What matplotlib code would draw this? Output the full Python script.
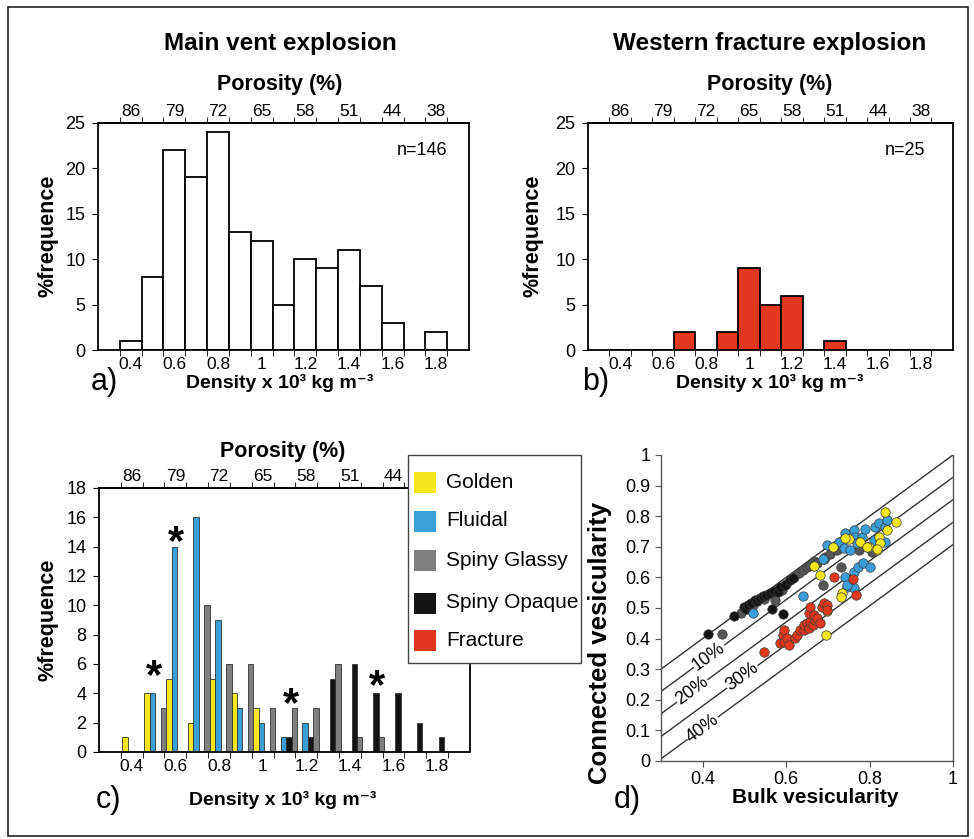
import matplotlib
matplotlib.use('Agg')  # no display
import matplotlib.pyplot as plt
from matplotlib.patches import Rectangle
import numpy as np

plt.rcParams['font.family'] = ['Liberation Sans Narrow', 'Liberation Sans', 'DejaVu Sans']
plt.rcParams['axes.linewidth'] = 1.3

# density classes (bin centres, x 10^3 kg m-3)
bin_centres = [0.4, 0.5, 0.6, 0.7, 0.8, 0.9, 1.0, 1.1, 1.2, 1.3, 1.4, 1.5, 1.6, 1.7, 1.8]
main_vent = [1, 8, 22, 19, 24, 13, 12, 5, 10, 9, 11, 7, 3, 0, 2]
west_fracture = [0, 0, 0, 2, 0, 2, 9, 5, 6, 0, 1, 0, 0, 0, 0]

# main vent split by clast type
golden = [1, 4, 5, 2, 5, 4, 3, 0, 0, 0, 0, 0, 0, 0, 0]
fluidal = [0, 4, 14, 16, 9, 3, 2, 1, 2, 0, 0, 0, 0, 0, 0]
spiny_glassy = [0, 0, 3, 0, 10, 6, 6, 3, 3, 3, 6, 1, 1, 0, 0]
spiny_opaque = [0, 0, 0, 0, 0, 0, 0, 1, 1, 5, 6, 4, 4, 2, 1]

density_ticks = [0.4, 0.6, 0.8, 1.0, 1.2, 1.4, 1.6, 1.8]
density_labels = ['0.4', '0.6', '0.8', '1', '1.2', '1.4', '1.6', '1.8']
porosity_labels = ['86', '79', '72', '65', '58', '51', '44', '38']

# asterisks in panel c (density, % frequence)
star_x = [0.5, 0.605, 1.13, 1.525]
star_y = [5.1, 14.25, 3.2, 4.4]

# bulk vs connected vesicularity
glassy_bulk = [0.446, 0.493, 0.52, 0.548, 0.573, 0.59, 0.60, 0.62, 0.63, 0.64, 0.649, 0.658,
               0.667, 0.674, 0.69, 0.694, 0.706, 0.722, 0.731, 0.688, 0.774, 0.806]
glassy_conn = [0.415, 0.483, 0.51, 0.53, 0.526, 0.56, 0.58, 0.60, 0.615, 0.624, 0.635, 0.64,
               0.652, 0.646, 0.66, 0.668, 0.675, 0.69, 0.635, 0.575, 0.69, 0.684]
opaque_bulk = [0.412, 0.475, 0.499, 0.505, 0.509, 0.516, 0.525, 0.53, 0.537, 0.545, 0.553,
               0.562, 0.57, 0.581, 0.585, 0.597, 0.609, 0.617, 0.565, 0.593]
opaque_conn = [0.415, 0.475, 0.503, 0.497, 0.51, 0.515, 0.526, 0.522, 0.533, 0.538, 0.542,
               0.55, 0.555, 0.553, 0.57, 0.575, 0.59, 0.597, 0.496, 0.48]
fluidal_bulk = [0.521, 0.641, 0.689, 0.697, 0.726, 0.738, 0.741, 0.754, 0.762, 0.766, 0.77,
                0.782, 0.79, 0.794, 0.812, 0.81, 0.822, 0.838, 0.843, 0.837, 0.742, 0.746,
                0.763, 0.763, 0.773, 0.785, 0.801, 0.745]
fluidal_conn = [0.483, 0.539, 0.659, 0.706, 0.717, 0.695, 0.744, 0.69, 0.755, 0.733, 0.711,
                0.733, 0.758, 0.70, 0.766, 0.722, 0.777, 0.766, 0.788, 0.717, 0.602, 0.57,
                0.619, 0.564, 0.635, 0.646, 0.635, 0.575]
golden_bulk = [0.838, 0.864, 0.842, 0.823, 0.818, 0.798, 0.777, 0.751, 0.742, 0.713, 0.667,
               0.681, 0.733, 0.731, 0.699, 0.696, 0.795, 0.826, 0.819]
golden_conn = [0.815, 0.782, 0.755, 0.733, 0.69, 0.70, 0.717, 0.725, 0.728, 0.699, 0.637,
               0.608, 0.55, 0.537, 0.491, 0.412, 0.698, 0.711, 0.692]
fracture_bulk = [0.547, 0.586, 0.592, 0.594, 0.594, 0.602, 0.606, 0.622, 0.626, 0.634, 0.642,
                 0.642, 0.65, 0.654, 0.658, 0.664, 0.67, 0.654, 0.658, 0.666, 0.674, 0.682,
                 0.686, 0.69, 0.699, 0.698, 0.715, 0.76, 0.767]
fracture_conn = [0.357, 0.385, 0.412, 0.428, 0.39, 0.401, 0.379, 0.401, 0.412, 0.428, 0.428,
                 0.444, 0.45, 0.434, 0.455, 0.444, 0.461, 0.483, 0.504, 0.477, 0.466, 0.45,
                 0.504, 0.515, 0.51, 0.493, 0.60, 0.594, 0.542]

# isolated porosity reference lines
isolated_labels = ['', '10%', '20%', '30%', '40%']
isolated_offsets = [0.0, 0.073, 0.146, 0.22, 0.293]
isolated_label_x = [0.0, 0.415, 0.375, 0.495, 0.40]

legend_labels = ['Golden', 'Fluidal', 'Spiny Glassy', 'Spiny Opaque', 'Fracture']

YELLOW = '#f4e81c'
BLUE = '#3a9fd6'
GREY = '#7f7f7f'
BLACK = '#141414'
RED = '#e2381f'
legend_colors = [YELLOW, BLUE, GREY, BLACK, RED]

bin_edges = np.arange(0.35, 1.86, 0.1)

W, H = 974, 839
fig = plt.figure(figsize=(W / 100, H / 100), dpi=100)


def density_axes(ax, ymax, ystep):
    ax.set_xlim(0.25, 1.95)
    ax.set_ylim(0, ymax)
    ax.set_yticks(np.arange(0, ymax + 1, ystep))
    ax.set_xticks(density_ticks, density_labels)
    ax.set_xticks(bin_edges, minor=True)
    ax.tick_params(axis='x', which='major', length=0, labelsize=12.5, pad=5)
    ax.tick_params(axis='x', which='minor', length=4)
    ax.tick_params(axis='y', labelsize=13, length=4, pad=5)
    top = ax.secondary_xaxis('top')
    top.set_xticks(density_ticks, porosity_labels)
    top.set_xticks(bin_edges, minor=True)
    top.tick_params(which='major', length=0, labelsize=12.5, pad=3)
    top.tick_params(which='minor', length=4)
    return top


# a) main vent
ax_a = fig.add_axes([0.1006, 0.5828, 0.3809, 0.2706])
ax_a.bar(bin_centres, main_vent, width=0.1, color='white', edgecolor='black', linewidth=1.3)
density_axes(ax_a, 25, 5)
ax_a.text(0.943, 0.877, 'n=146', transform=ax_a.transAxes, ha='right', va='center', fontsize=13)

# b) western fracture
ax_b = fig.add_axes([0.6037, 0.5828, 0.3747, 0.2706])
ax_b.bar(bin_centres, west_fracture, width=0.1, color=RED, edgecolor='black', linewidth=1.3)
density_axes(ax_b, 25, 5)
ax_b.text(0.923, 0.877, 'n=25', transform=ax_b.transAxes, ha='right', va='center', fontsize=13)

# c) main vent by clast type
ax_c = fig.add_axes([0.1016, 0.1037, 0.3809, 0.3147])
bw = 0.025
xc = np.array(bin_centres)
ax_c.bar(xc - 0.055, spiny_glassy, width=bw, color=GREY, edgecolor='#333333', linewidth=0.6)
ax_c.bar(xc - 0.030, golden, width=bw, color=YELLOW, edgecolor='#333333', linewidth=0.6)
ax_c.bar(xc - 0.005, fluidal, width=bw, color=BLUE, edgecolor='#333333', linewidth=0.6)
ax_c.bar(xc + 0.020, spiny_opaque, width=bw, color=BLACK, edgecolor='#333333', linewidth=0.6)
density_axes(ax_c, 18, 2)
for sx, sy in zip(star_x, star_y):
    ax_c.text(sx, sy, '*', ha='center', va='center', fontsize=30, fontweight='bold',
              family=['Liberation Sans', 'DejaVu Sans'])

# legend box drawn over the top-right corner of panel c
fig.add_artist(Rectangle((408 / W, 1 - 663 / H), 173 / W, 208 / H, transform=fig.transFigure,
                         facecolor='white', edgecolor='#444444', linewidth=1.0, zorder=5))
for i, (lab, col) in enumerate(zip(legend_labels, legend_colors)):
    yc = [482, 521, 560, 603, 640][i]
    fig.add_artist(Rectangle((414 / W, 1 - (yc + 10.5) / H), 22 / W, 21 / H,
                             transform=fig.transFigure, facecolor=col, edgecolor='none', zorder=6))
    fig.text(446 / W, 1 - yc / H, lab, fontsize=15, ha='left', va='center', zorder=7,
             family=['Liberation Sans', 'DejaVu Sans'])

# d) bulk vs connected vesicularity
ax_d = fig.add_axes([0.6786, 0.0930, 0.2998, 0.3647])
xs = np.array([0.3, 1.0])
for lab, off, lx in zip(isolated_labels, isolated_offsets, isolated_label_x):
    ax_d.plot(xs, xs - off, color='#333333', linewidth=1.0, zorder=1)
    if lab:
        ax_d.text(lx, lx - off, lab, rotation=45, transform_rotates_text=True,
                  rotation_mode='anchor', ha='center', va='center', fontsize=13, zorder=2,
                  bbox=dict(facecolor='white', edgecolor='none', pad=0.5))
pt = dict(s=46, edgecolors='#3a3a3a', linewidths=0.5, zorder=3)
ax_d.scatter(glassy_bulk, glassy_conn, color='#555555', **pt)
ax_d.scatter(opaque_bulk, opaque_conn, color=BLACK, **pt)
ax_d.scatter(fluidal_bulk, fluidal_conn, color=BLUE, **pt)
ax_d.scatter(golden_bulk, golden_conn, color=YELLOW, **pt)
ax_d.scatter(fracture_bulk, fracture_conn, color=RED, **pt)
ax_d.set_xlim(0.3, 1.0)
ax_d.set_ylim(0, 1)
ax_d.set_xticks([0.4, 0.6, 0.8, 1.0], ['0.4', '0.6', '0.8', '1'])
ax_d.set_yticks(np.arange(0, 1.01, 0.1),
                ['0', '0.1', '0.2', '0.3', '0.4', '0.5', '0.6', '0.7', '0.8', '0.9', '1'])
ax_d.tick_params(labelsize=13, length=4, color='#555555')
ax_d.spines['top'].set_visible(False)
for s in ['left', 'bottom', 'right']:
    ax_d.spines[s].set_color('#555555')
    ax_d.spines[s].set_linewidth(1.0)

# titles and axis labels
bold = dict(fontweight='bold', ha='center', va='center')
fig.text(0.2875, 0.9487, 'Main vent explosion', fontsize=17.5, **bold)
fig.text(0.7906, 0.9487, 'Western fracture explosion', fontsize=17.5, **bold)
fig.text(0.2875, 0.899, 'Porosity (%)', fontsize=15.5, **bold)
fig.text(0.7906, 0.899, 'Porosity (%)', fontsize=15.5, **bold)
fig.text(0.2905, 0.4613, 'Porosity (%)', fontsize=15.5, **bold)
fig.text(0.2875, 0.5435, 'Density x 10³ kg m⁻³', fontsize=14, **bold)
fig.text(0.7906, 0.5435, 'Density x 10³ kg m⁻³', fontsize=14, **bold)
fig.text(0.2905, 0.046, 'Density x 10³ kg m⁻³', fontsize=14, **bold)
fig.text(0.8368, 0.049, 'Bulk vesicularity', fontsize=15, **bold)
fig.text(0.0493, 0.7187, '%frequence', fontsize=15.5, rotation=90, **bold)
fig.text(0.547, 0.7187, '%frequence', fontsize=15.5, rotation=90, **bold)
fig.text(0.0493, 0.261, '%frequence', fontsize=15.5, rotation=90, **bold)
fig.text(0.616, 0.2336, 'Connected vesicularity', fontsize=18.5, rotation=90, **bold)

# panel letters
for x, y, s in [(0.107, 0.545, 'a)'), (0.612, 0.545, 'b)'), (0.111, 0.046, 'c)'), (0.644, 0.046, 'd)')]:
    fig.text(x, y, s, fontsize=22, ha='center', va='center')

fig.add_artist(Rectangle((0.008, 0.004), 0.986, 0.988, transform=fig.transFigure,
                         fill=False, linewidth=1.2, edgecolor='#222222'))

plt.savefig('out.png', dpi=100)
